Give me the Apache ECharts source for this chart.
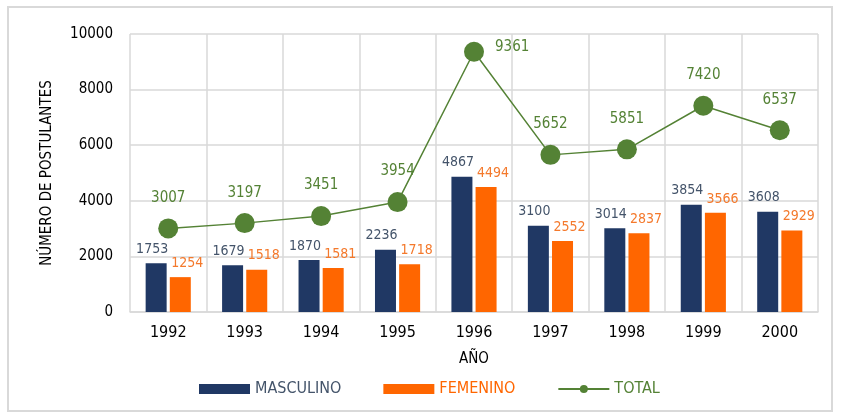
<!DOCTYPE html>
<html>
<head>
<meta charset="utf-8">
<script src="https://cdn.jsdelivr.net/npm/echarts@6/dist/echarts.min.js"></script>
<style>
  html, body { margin: 0; padding: 0; background: #fff; }
  #chart { width: 843px; height: 414px; }
</style>
</head>
<body>
<div id="chart"></div>
<script>
    const years = ['1992', '1993', '1994', '1995', '1996', '1997', '1998', '1999', '2000'];
    const masculino = [1753, 1679, 1870, 2236, 4867, 3100, 3014, 3854, 3608];
    const femenino = [1254, 1518, 1581, 1718, 4494, 2552, 2837, 3566, 2929];
    const total = [3007, 3197, 3451, 3954, 9361, 5652, 5851, 7420, 6537];

    const font = "'Liberation Sans Narrow', 'DejaVu Sans Condensed', sans-serif";
    const myChart = echarts.init(document.getElementById('chart'));

    // the 1996 total label sits to the right of its marker
    const totalData = total.map((v, i) => {
        if (i === 4) {
            return { value: v, label: { position: 'right', distance: 11, offset: [0, -5] } };
        }
        return v;
    });

    const option = {
        animation: false,
        textStyle: { fontFamily: font },
        graphic: [{
            type: 'rect',
            shape: { x: 8, y: 7, width: 824, height: 404 },
            style: { fill: 'none', stroke: '#d9d9d9', lineWidth: 2 },
            silent: true
        }],
        grid: { left: 130, right: 25, top: 34, bottom: 102 },
        legend: {
            left: 194,
            top: 376,
            itemWidth: 51,
            itemHeight: 10,
            itemGap: 42,
            textStyle: { fontFamily: font, fontSize: 16 },
            data: [
                { name: 'MASCULINO', icon: 'rect', textStyle: { color: '#44546a' } },
                { name: 'FEMENINO', icon: 'rect', textStyle: { color: '#ff6600' } },
                { name: 'TOTAL', textStyle: { color: '#548235' } }
            ]
        },
        xAxis: {
            type: 'category',
            data: years,
            name: 'AÑO',
            nameLocation: 'middle',
            nameGap: 40,
            nameTextStyle: { color: '#000', fontSize: 15, fontFamily: font },
            axisLine: { lineStyle: { color: '#d9d9d9', width: 1.5 } },
            axisTick: { show: false },
            axisLabel: { color: '#000', fontSize: 16, margin: 13, fontFamily: font },
            splitLine: { show: true, lineStyle: { color: '#d9d9d9', width: 1.5 } }
        },
        yAxis: {
            type: 'value',
            min: 0,
            max: 10000,
            interval: 2000,
            name: 'NÚMERO DE POSTULANTES',
            nameLocation: 'middle',
            nameGap: 75,
            nameTextStyle: { color: '#000', fontSize: 15, fontFamily: font },
            axisLine: { show: false },
            axisTick: { show: false },
            axisLabel: {
                color: '#000', fontSize: 15, margin: 17, fontFamily: font,
                formatter: v => String(v)
            },
            splitLine: { lineStyle: { color: '#d9d9d9', width: 1.5 } }
        },
        series: [
            {
                name: 'MASCULINO',
                type: 'bar',
                data: masculino,
                barWidth: 21,
                barGap: '15%',
                itemStyle: { color: '#203864' },
                label: {
                    show: true, position: 'top', distance: 7, offset: [-4, 0],
                    color: '#44546a', fontSize: 14, fontFamily: font
                }
            },
            {
                name: 'FEMENINO',
                type: 'bar',
                data: femenino,
                barWidth: 21,
                itemStyle: { color: '#ff6600' },
                label: {
                    show: true, position: 'top', distance: 7, offset: [7, 0],
                    color: '#f4792c', fontSize: 14, fontFamily: font
                }
            },
            {
                name: 'TOTAL',
                type: 'line',
                data: totalData,
                symbol: 'circle',
                symbolSize: 20,
                z: 5,
                lineStyle: { color: '#548235', width: 1.5 },
                itemStyle: { color: '#548235' },
                label: {
                    show: true, position: 'top', distance: 13,
                    color: '#548235', fontSize: 15, fontFamily: font
                }
            }
        ]
    };

    myChart.setOption(option);
</script>
</body>
</html>
